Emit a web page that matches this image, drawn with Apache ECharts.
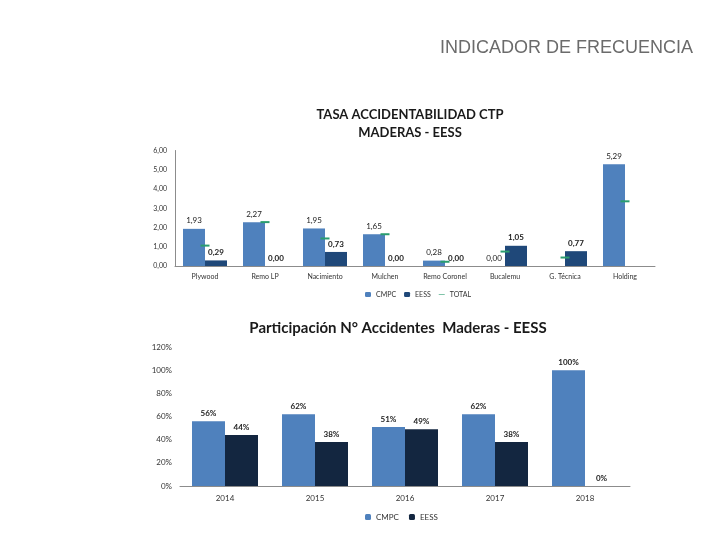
<!DOCTYPE html>
<html>
<head>
<meta charset="utf-8">
<script src="https://cdn.jsdelivr.net/npm/echarts@6/dist/echarts.min.js"></script>
<style>
  html, body { margin: 0; padding: 0; background: #fff; }
  #chart { width: 720px; height: 540px; }
</style>
</head>
<body>
<div id="chart"></div>
<script>
// Top chart: tasa accidentabilidad por planta
const plantas = ['Plywood', 'Remo LP', 'Nacimiento', 'Mulchen', 'Remo Coronel', 'Bucalemu', 'G. Técnica', 'Holding'];
const tasaCMPC = [1.93, 2.27, 1.95, 1.65, 0.28, 0.00, null, 5.29];
const tasaEESS = [0.29, 0.00, 0.73, 0.00, 0.00, 1.05, 0.77, null];
const tasaTotal = [1.06, 2.28, 1.43, 1.65, 0.22, 0.75, 0.44, 3.36];
const tasaTicks = [0, 1, 2, 3, 4, 5, 6];

// Bottom chart: participacion por año
const anios = ['2014', '2015', '2016', '2017', '2018'];
const partCMPC = [56, 62, 51, 62, 100];
const partEESS = [44, 38, 49, 38, 0];

const FONT = 'Lato, "Liberation Sans", sans-serif';
const BLUE = '#4f81bd';
const NAVY = '#1f4879';
const DARK = '#132640';
const GREEN = '#2a9d6f';

const fmtComma = (v) => v.toFixed(2).replace('.', ',');

const chart = echarts.init(document.getElementById('chart'));

const option = {
  animation: false,
  textStyle: { fontFamily: FONT },
  graphic: [{
    type: 'text', right: 27, top: 39,
    style: { text: 'INDICADOR DE FRECUENCIA', font: '18px "Liberation Sans", Arial, sans-serif', fill: '#6b6b6b' }
  }],
  title: [
    {
      text: 'TASA ACCIDENTABILIDAD CTP\nMADERAS - EESS', left: 405, top: 101, textAlign: 'center',
      textStyle: { fontFamily: FONT, fontSize: 13, fontWeight: 'bold', color: '#1a1a1a', lineHeight: 18 }
    },
    {
      text: 'Participación N° Accidentes  Maderas - EESS', left: 393, top: 316, textAlign: 'center',
      textStyle: { fontFamily: FONT, fontSize: 15, fontWeight: 'bold', color: '#1a1a1a' }
    }
  ],
  legend: [
    {
      top: 286, left: 405 - 45, itemWidth: 6, itemHeight: 5, itemGap: 8,
      textStyle: { fontSize: 7, color: '#333', fontFamily: FONT },
      data: [
        { name: 'CMPC' }, { name: 'EESS' },
        { name: 'TOTAL', icon: 'path://M0,4.5L10,4.5L10,5.5L0,5.5Z', itemStyle: { color: GREEN } }
      ]
    },
    {
      top: 508, left: 360, itemWidth: 6, itemHeight: 6, itemGap: 8,
      textStyle: { fontSize: 8, color: '#333', fontFamily: FONT },
      data: ['CMPC ', 'EESS ']
    }
  ],
  grid: [
    { left: 175, right: 65, top: 150.5, height: 115.5 },
    { left: 180, right: 90, top: 347, height: 139 }
  ],
  xAxis: [
    {
      type: 'category', gridIndex: 0, data: plantas,
      axisLine: { lineStyle: { color: '#8c8c8c' } }, axisTick: { show: false },
      axisLabel: { fontSize: 7, color: '#333', margin: 7, interval: 0 }
    },
    {
      type: 'category', gridIndex: 1, data: anios,
      axisLine: { lineStyle: { color: '#8c8c8c' } }, axisTick: { show: false },
      axisLabel: { fontSize: 8, color: '#333', margin: 8 }
    }
  ],
  yAxis: [
    {
      type: 'value', gridIndex: 0, min: tasaTicks[0], max: tasaTicks[tasaTicks.length - 1], interval: 1,
      axisLine: { show: true, lineStyle: { color: '#8c8c8c' } }, splitLine: { show: false },
      axisLabel: { fontSize: 7, color: '#333', formatter: fmtComma, margin: 8 }
    },
    {
      type: 'value', gridIndex: 1, min: 0, max: 120, interval: 20,
      axisLine: { show: false }, splitLine: { show: false },
      axisLabel: { fontSize: 8, color: '#333', formatter: '{value}%', margin: 8 }
    }
  ],
  series: [
    {
      name: 'CMPC', type: 'bar', xAxisIndex: 0, yAxisIndex: 0, data: tasaCMPC,
      barWidth: 22, barGap: '0%', itemStyle: { color: BLUE },
      label: { show: true, position: 'top', distance: 4, fontSize: 8, color: '#222', formatter: (p) => fmtComma(p.value) }
    },
    {
      name: 'EESS', type: 'bar', xAxisIndex: 0, yAxisIndex: 0, data: tasaEESS,
      barWidth: 22, barGap: '0%', itemStyle: { color: NAVY },
      label: { show: true, position: 'top', distance: 4, fontSize: 8, fontWeight: 'bold', color: '#222', formatter: (p) => fmtComma(p.value) }
    },
    {
      name: 'TOTAL', type: 'line', xAxisIndex: 0, yAxisIndex: 0, data: tasaTotal,
      symbol: 'rect', symbolSize: [9, 2], lineStyle: { width: 0, opacity: 0 },
      itemStyle: { color: GREEN }, z: 5
    },
    {
      name: 'CMPC ', type: 'bar', xAxisIndex: 1, yAxisIndex: 1, data: partCMPC,
      barWidth: 33, barGap: '0%', itemStyle: { color: BLUE },
      label: { show: true, position: 'top', distance: 4, fontSize: 8, fontWeight: 'bold', color: '#222', formatter: '{c}%' }
    },
    {
      name: 'EESS ', type: 'bar', xAxisIndex: 1, yAxisIndex: 1, data: partEESS,
      barWidth: 33, barGap: '0%', itemStyle: { color: DARK },
      label: { show: true, position: 'top', distance: 4, fontSize: 8, fontWeight: 'bold', color: '#222', formatter: '{c}%' }
    }
  ]
};

chart.setOption(option);
</script>
</body>
</html>
